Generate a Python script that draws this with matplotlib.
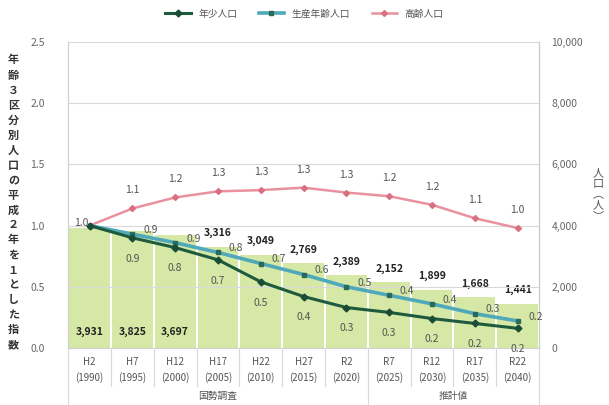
import matplotlib.pyplot as plt
from matplotlib.transforms import blended_transform_factory

plt.rcParams['font.family'] = ['Noto Sans CJK JP', 'DejaVu Sans']

# 年次ラベル（和暦と西暦）
years = ["H2", "H7", "H12", "H17", "H22", "H27", "R2", "R7", "R12", "R17", "R22"]
western = ["1990", "1995", "2000", "2005", "2010", "2015", "2020", "2025", "2030", "2035", "2040"]
groups = ["国勢調査", "推計値"]
group_sizes = [7, 4]

# 総人口（人）
total_pop = [3931, 3825, 3697, 3316, 3049, 2769, 2389, 2152, 1899, 1668, 1441]

# 平成2年を1とした指数
youth_idx = [1.0, 0.9, 0.82, 0.72, 0.54, 0.42, 0.33, 0.29, 0.24, 0.2, 0.16]
working_idx = [1.0, 0.93, 0.86, 0.78, 0.69, 0.6, 0.5, 0.43, 0.36, 0.28, 0.22]
elderly_idx = [1.0, 1.14, 1.23, 1.28, 1.29, 1.31, 1.27, 1.24, 1.17, 1.06, 0.98]

x = list(range(len(years)))

fig = plt.figure(figsize=(6.09, 4.05), dpi=100)
ax = fig.add_axes([0.112, 0.141, 0.773, 0.755])
ax2 = ax.twinx()
ax.set_zorder(ax2.get_zorder() + 1)
ax.patch.set_visible(False)

# 総人口の棒（右軸）
ax2.bar(x, total_pop, width=0.95, color="#d6e8a6", zorder=2)
ax2.set_ylim(0, 10000)
ax2.set_yticks(range(0, 10001, 2000))
ax2.set_yticklabels([f"{v:,}" for v in range(0, 10001, 2000)])
for i, v in enumerate(total_pop):
    if i < 3:
        ax2.annotate(f"{v:,}", (i, 0), xytext=(0, 8), textcoords="offset points",
                     ha="center", va="bottom", fontsize=7.5, fontweight="bold", color="#222222")
    else:
        ax2.annotate(f"{v:,}", (i, v), xytext=(0, 6), textcoords="offset points",
                     ha="center", va="bottom", fontsize=7.5, fontweight="bold", color="#222222")

# 指数の折れ線（左軸）
ax.plot(x, elderly_idx, color="#e9919f", lw=1.8, marker="D", ms=3, mfc="#d8707f", mec="#d8707f",
        label="高齢人口", zorder=3)
ax.plot(x, working_idx, color="#4fa9bb", lw=2.6, marker="s", ms=3.5, mfc="#2b6a58", mec="#2b6a58",
        label="生産年齢人口", zorder=4)
ax.plot(x, youth_idx, color="#1e5a3e", lw=2.2, marker="D", ms=3.5, mfc="#1a4d35", mec="#1a4d35",
        label="年少人口", zorder=5)

lab = dict(fontsize=7.5, color="#555555", ha="center", va="center")
for i in range(len(x)):
    if i == 0:
        ax.annotate(f"{elderly_idx[i]:.1f}", (i, elderly_idx[i]), xytext=(-6, 2),
                    textcoords="offset points", **lab)
        continue
    ax.annotate(f"{elderly_idx[i]:.1f}", (i, elderly_idx[i]), xytext=(0, 13),
                textcoords="offset points", **lab)
    ax.annotate(f"{working_idx[i]:.1f}", (i, working_idx[i]), xytext=(13, 3),
                textcoords="offset points", **lab)
    ax.annotate(f"{youth_idx[i]:.1f}", (i, youth_idx[i]), xytext=(0, -15),
                textcoords="offset points", **lab)

ax.set_xlim(-0.5, len(x) - 0.5)
ax.set_ylim(0, 2.5)
ax.set_yticks([0, 0.5, 1.0, 1.5, 2.0, 2.5])
ax.set_yticklabels([f"{v:.1f}" for v in [0, 0.5, 1.0, 1.5, 2.0, 2.5]])
ax.grid(axis="y", color="#d9d9d9", lw=0.8)
ax.set_axisbelow(True)
ax.set_xticks([])

for a in (ax, ax2):
    for s in ("top", "bottom"):
        a.spines[s].set_visible(False)
    a.spines["left"].set_color("#d0d0d0")
    a.spines["right"].set_color("#c8c8c8")
    a.tick_params(axis="y", length=0, labelsize=7.5, labelcolor="#666666")
ax.tick_params(axis="y", pad=17)
ax2.tick_params(axis="y", pad=9)
ax2.grid(False)

# 横軸の表組み
trans = blended_transform_factory(ax.transData, ax.transAxes)
ax.plot([-0.5, len(x) - 0.5], [0, 0], color="#d0d0d0", lw=0.8, transform=trans, clip_on=False)
for i in range(len(x)):
    ax.text(i, -0.072, f"{years[i]}\n({western[i]})", transform=trans, ha="center", va="center",
            fontsize=7, color="#555555", linespacing=1.5)
edges = [-0.5]
for n in group_sizes:
    edges.append(edges[-1] + n)
for b in range(len(x) + 1):
    xb = b - 0.5
    y_end = -0.19 if xb in edges else -0.125
    ax.plot([xb, xb], [0, y_end], color="#d9d9d9", lw=0.8, transform=trans, clip_on=False)
for g, (a0, a1) in enumerate(zip(edges[:-1], edges[1:])):
    ax.text((a0 + a1) / 2, -0.158, groups[g], transform=trans, ha="center", va="center",
            fontsize=7, color="#555555")

# 軸タイトル（縦書き）
left_title = "年齢３区分別人口の平成２年を１とした指数"
fig.text(0.022, 0.5, "\n".join(left_title), ha="center", va="center", fontsize=8,
         fontweight="bold", color="#333333", linespacing=1.2)
fig.text(0.982, 0.52, "\n".join("人口︵人︶"), ha="center", va="center", fontsize=8,
         color="#555555", linespacing=1.1)

handles, labels = ax.get_legend_handles_labels()
fig.legend(handles[::-1], labels[::-1], loc="upper center", bbox_to_anchor=(0.5, 1.0), ncol=3,
           frameon=False, fontsize=7, handlelength=2.6, columnspacing=2.2, labelcolor="#555555")

fig.savefig("out.png", dpi=100)
